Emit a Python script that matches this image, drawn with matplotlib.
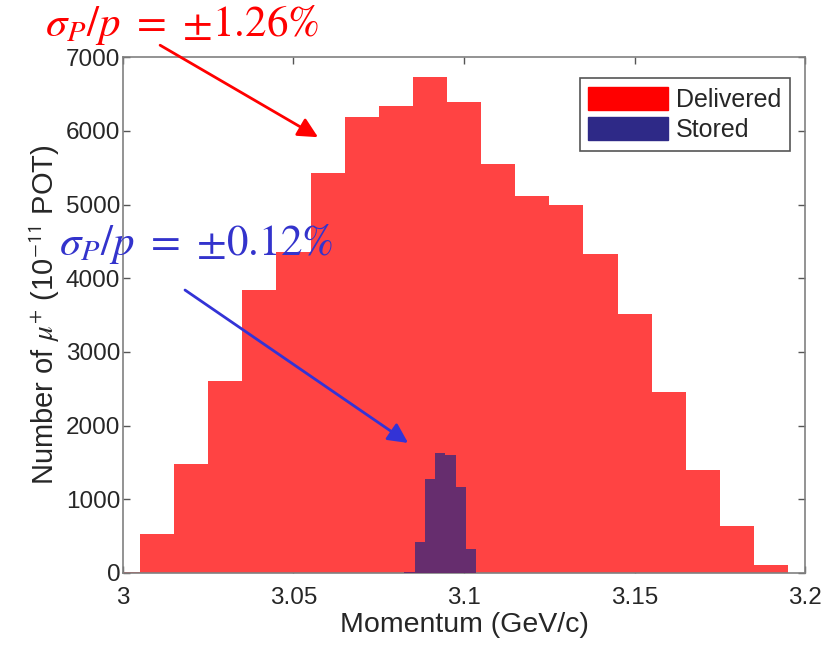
"""
Momentum spread of delivered vs stored muons.
"""

import matplotlib
matplotlib.use('Agg')
import matplotlib.pyplot as plt
from matplotlib.patches import Patch

plt.rcParams['font.family'] = ['Liberation Sans', 'DejaVu Sans']
plt.rcParams['mathtext.fontset'] = 'stix'

# delivered histogram (bin width 0.01 GeV/c)
delivered_p = [3.00, 3.01, 3.02, 3.03, 3.04, 3.05, 3.06, 3.07, 3.08, 3.09,
               3.10, 3.11, 3.12, 3.13, 3.14, 3.15, 3.16, 3.17, 3.18, 3.19]
delivered_n = [15, 531, 1480, 2609, 3846, 4360, 5428, 6185, 6338, 6734,
               6387, 5554, 5122, 5000, 4324, 3518, 2452, 1394, 643, 108]

# stored histogram (bin width 0.003 GeV/c)
stored_p = [3.084, 3.087, 3.090, 3.093, 3.096, 3.099, 3.102]
stored_n = [12, 418, 1278, 1633, 1606, 1161, 328]

xticks = [3.0, 3.05, 3.1, 3.15, 3.2]
xtick_labels = ['3', '3.05', '3.1', '3.15', '3.2']
yticks = [0, 1000, 2000, 3000, 4000, 5000, 6000, 7000]

fig = plt.figure(figsize=(8.25, 6.51), dpi=100)
ax = fig.add_axes([0.149, 0.120, 0.827, 0.792])

ax.bar(delivered_p, delivered_n, width=0.01, color='#ff4343', lw=0, zorder=2)
ax.bar(stored_p, stored_n, width=0.003, color='#662d6e', lw=0, zorder=3)

ax.set_xlim(3.0, 3.2)
ax.set_ylim(0, 7000)
ax.set_xticks(xticks)
ax.set_xticklabels(xtick_labels)
ax.set_yticks(yticks)
ax.tick_params(direction='in', top=True, right=True, length=5, width=1,
               color='#555555', labelcolor='#262626', labelsize=17.5)
ax.tick_params(axis='x', pad=10)
ax.tick_params(axis='y', pad=2)
for s in ax.spines.values():
    s.set_color('#808080')
    s.set_linewidth(1.2)

ax.set_xlabel('Momentum (GeV/c)', fontsize=20.5, color='#262626', labelpad=2)
ax.set_ylabel(r'Number of $\mu^{+}$ (10$^{\mathsf{-11}}$ POT)', fontsize=21,
              color='#262626', labelpad=3)

handles = [Patch(facecolor='#ff0000', edgecolor='#ff0000'),
           Patch(facecolor='#2e2987', edgecolor='#2e2987')]
leg = ax.legend(handles, ['Delivered', 'Stored'], loc='upper right',
                bbox_to_anchor=(0.985, 0.97), fontsize=18, fancybox=False,
                framealpha=1, edgecolor='#555555', handlelength=3.2,
                handleheight=1.05, handletextpad=0.3, borderpad=0.35,
                labelspacing=0.2, borderaxespad=0.2)
leg.get_frame().set_linewidth(1.2)
for t in leg.get_texts():
    t.set_color('#262626')

# annotations
ax.annotate('', xy=(3.0572, 5915), xytext=(3.0109, 7164),
            annotation_clip=False,
            arrowprops=dict(arrowstyle='-|>', color='#ff0000', lw=2,
                            mutation_scale=30, shrinkA=0, shrinkB=0))
ax.annotate('', xy=(3.0836, 1764), xytext=(3.0182, 3840),
            arrowprops=dict(arrowstyle='-|>', color='#3333d6', lw=2,
                            mutation_scale=30, shrinkA=0, shrinkB=0))
fig.text(0.054, 0.962, r'$\sigma_P/p\ =\ {\pm}1.26\%$', color='#ff0000',
         fontsize=31, va='center', ha='left')
fig.text(0.072, 0.625, r'$\sigma_P/p\ =\ {\pm}0.12\%$', color='#3333cc',
         fontsize=31, va='center', ha='left', zorder=10)

plt.savefig('out.png', dpi=100)
plt.close()
print('Saved out.png')
